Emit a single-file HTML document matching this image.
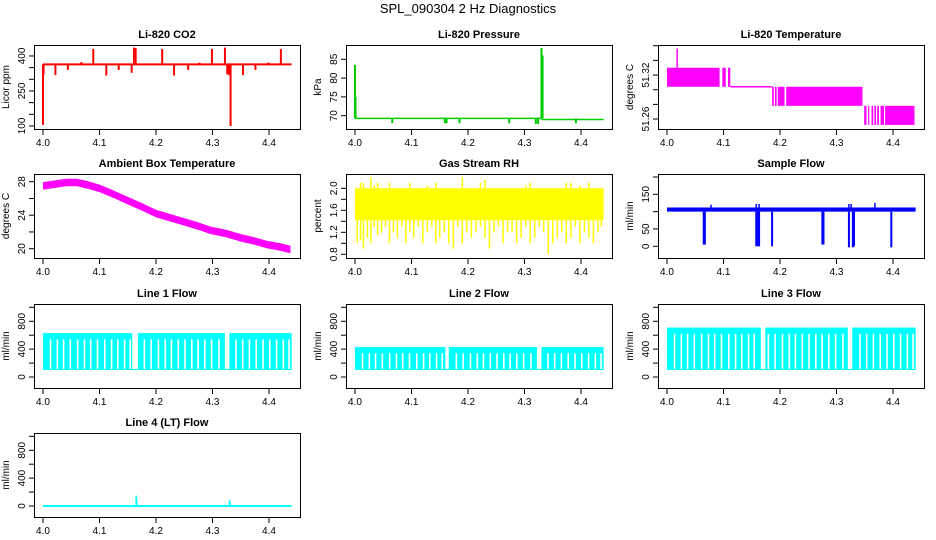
<!DOCTYPE html>
<html><head><meta charset="utf-8"><style>
html,body{margin:0;padding:0;background:#fff}
svg{display:block;font-family:"Liberation Sans",Arial,sans-serif}
</style></head><body>
<svg id="chart" width="936" height="540" viewBox="0 0 936 540">
<text x="468" y="13" text-anchor="middle" font-size="13">SPL_090304  2 Hz Diagnostics</text>
</svg>
<script>
// ---- data arrays ----
const xTicks=[4.0,4.1,4.2,4.3,4.4];
const co2Base=364;
const co2SpikeX=[4.000,4.001,4.022,4.044,4.068,4.089,4.112,4.134,4.157,4.161,4.164,4.211,4.232,4.257,4.277,4.299,4.322,4.326,4.329,4.332,4.354,4.376,4.399,4.421];
const co2SpikeV=[105,320,318,340,374,430,316,340,328,436,434,430,316,340,372,430,436,322,318,100,318,340,372,430];
const presBase=69.3;
const presSpikeX=[4.000,4.001,4.066,4.159,4.162,4.185,4.273,4.320,4.324,4.330,4.332,4.391];
const presSpikeV=[83.5,75,68,68,68,68,68,67.8,67.8,88,86,68];
const tempStart=[4.000,4.098,4.108,4.112,4.186,4.191,4.196,4.211,4.349,4.356,4.362,4.367,4.372,4.378,4.386];
const tempEnd=[4.093,4.104,4.112,4.186,4.189,4.194,4.208,4.346,4.353,4.358,4.365,4.370,4.375,4.384,4.438];
const tempLo=[51.304,51.304,51.304,51.303,51.278,51.278,51.278,51.278,51.252,51.252,51.252,51.252,51.252,51.252,51.252];
const tempHi=[51.330,51.330,51.330,51.305,51.304,51.304,51.304,51.304,51.278,51.278,51.278,51.278,51.278,51.278,51.278];
const tempSpikeX=[4.018];
const tempSpikeV=[51.356];
const ambX=[4.000,4.020,4.041,4.060,4.080,4.100,4.125,4.148,4.175,4.200,4.225,4.250,4.275,4.296,4.325,4.350,4.375,4.396,4.420,4.438];
const ambV=[27.5,27.7,27.9,27.9,27.6,27.2,26.5,25.8,25.0,24.2,23.7,23.2,22.7,22.2,21.8,21.3,20.9,20.5,20.2,19.9];
const rhCoreLo=1.42, rhCoreHi=2.0;
const rhSpikeX=[4.004,4.010,4.015,4.022,4.028,4.034,4.040,4.047,4.054,4.061,4.068,4.075,4.083,4.090,4.097,4.104,4.112,4.120,4.128,4.136,4.143,4.150,4.158,4.166,4.174,4.182,4.190,4.198,4.206,4.214,4.222,4.230,4.238,4.246,4.254,4.262,4.270,4.278,4.286,4.294,4.302,4.310,4.318,4.326,4.334,4.342,4.350,4.358,4.366,4.374,4.382,4.390,4.398,4.406,4.414,4.422,4.430,4.436];
const rhSpikeLo=[1.0,1.05,0.9,1.1,1.0,1.3,1.15,1.2,1.3,1.0,1.2,1.1,1.3,1.0,1.2,1.1,1.3,1.0,1.2,1.3,1.0,1.1,1.2,1.0,0.9,1.3,1.0,1.2,1.1,1.2,1.3,1.1,0.9,1.2,1.3,1.0,1.2,1.2,1.0,1.1,1.3,1.0,1.1,1.3,1.2,0.8,1.0,1.1,1.2,1.0,1.1,1.3,1.0,1.2,1.1,1.0,1.2,1.3];
const rhSpikeHi=[2.0,2.1,2.1,2.0,2.2,2.05,2.1,2.0,2.0,2.1,2.0,2.0,2.0,2.0,2.1,2.0,2.0,2.0,2.05,2.0,2.1,2.0,2.0,2.0,2.0,2.0,2.2,2.0,2.0,2.0,2.1,2.15,2.0,2.0,2.0,2.0,2.0,2.0,2.0,2.0,2.05,2.1,2.0,2.0,2.0,2.0,2.0,2.0,2.0,2.1,2.1,2.0,2.05,2.0,2.1,2.0,2.0,2.0];
const sampLo=100, sampHi=112;
const sampDipX=[4.065,4.067,4.158,4.161,4.163,4.186,4.275,4.277,4.322,4.329,4.331,4.397];
const sampDipV=[5,5,0,0,0,0,5,5,-3,-3,0,-3];
const sampPeakX=[4.078,4.158,4.163,4.322,4.326,4.368];
const sampPeakV=[120,122,122,122,122,125];
const flowStripes=[4.012,4.024,4.035,4.047,4.060,4.072,4.083,4.095,4.108,4.120,4.131,4.143,4.153,4.178,4.190,4.203,4.215,4.226,4.238,4.250,4.262,4.273,4.285,4.297,4.310,4.340,4.352,4.364,4.376,4.388,4.400,4.412,4.424,4.434];
const line1Hi=630, line2Hi=430, line3Hi=710, flowLo=100;
const line1GapS=[4.158,4.322], line1GapE=[4.168,4.330];
const line2GapS=[4.160,4.322], line2GapE=[4.166,4.330];
const line3GapS=[4.166,4.320], line3GapE=[4.174,4.328];
const line4Base=0;
const line4SpikeX=[4.165,4.166,4.330,4.331];
const line4SpikeV=[150,90,85,60];

// ---- layout ----
const NS="http://www.w3.org/2000/svg";
const svg=document.getElementById('chart');
const colL=[34,346,658], rowT=[45,174,304,433], W=266, H=84;
function mk(tag,attrs,parent){const e=document.createElementNS(NS,tag);for(const k in attrs)e.setAttribute(k,attrs[k]);(parent||svg).appendChild(e);return e;}

function panel(col,row,title,ylab,ymin,ymax,ticks,labels,name){
  const L=colL[col],T=rowT[row],B=T+H;
  const g=mk('g',{});
  
  
  const sx=v=>L+9+(v-4.0)*565;
  const sy=v=>T+H-(v-ymin)/(ymax-ymin)*H;
  const clip=mk('clipPath',{id:'c'+name},g);
  mk('rect',{x:L,y:T,width:W,height:H},clip);
  const plot=mk('g',{'clip-path':'url(#c'+name+')'},g);
  
  
  const box=mk('rect',{x:L+0.5,y:T+0.5,width:W,height:H,fill:'none',stroke:'#000','stroke-width':1},g);
  
  
  const t=mk('text',{x:L+W/2,y:T-7,'text-anchor':'middle','font-size':11,'font-weight':'bold'},g);
  t.textContent=title;
  
  
  const yl=mk('text',{transform:`translate(${L-25},${T+H/2}) rotate(-90)`,'text-anchor':'middle','font-size':10},g);
  yl.textContent=ylab;
  
  
  xTicks.forEach(v=>{
    mk('line',{x1:sx(v),x2:sx(v),y1:B,y2:B+6,stroke:'#000'},g);
    const tl=mk('text',{x:sx(v),y:B+17,'text-anchor':'middle','font-size':10},g);
    tl.textContent=v.toFixed(1);
    
    
  });
  ticks.forEach(v=>{mk('line',{x1:L-5,x2:L,y1:sy(v),y2:sy(v),stroke:'#000'},g);});
  labels.forEach(v=>{
    const tl=mk('text',{transform:`translate(${L-9},${sy(v)}) rotate(-90)`,'text-anchor':'middle','font-size':10},g);
    tl.textContent=String(v);
    
    
  });
  return {g:plot,sx,sy};
}
function vline(p,x,y1,y2,c,w){mk('line',{x1:p.sx(x),x2:p.sx(x),y1:p.sy(y1),y2:p.sy(y2),stroke:c,'stroke-width':w||1.5},p.g);}
function hline(p,x1,x2,y,c,w){mk('line',{x1:p.sx(x1),x2:p.sx(x2),y1:p.sy(y),y2:p.sy(y),stroke:c,'stroke-width':w||1.5},p.g);}
function band(p,x1,x2,lo,hi,c){mk('rect',{x:p.sx(x1),y:p.sy(hi),width:Math.max(0.5,p.sx(x2)-p.sx(x1)),height:Math.max(1,p.sy(lo)-p.sy(hi)),fill:c},p.g);}

// CO2
let p=panel(0,0,'Li-820 CO2','Licor ppm',87,447,[100,150,200,250,300,350,400],[100,250,400],'co2');
hline(p,4.0,4.44,co2Base,'#f00',2);
co2SpikeX.forEach((x,i)=>vline(p,x,co2Base,co2SpikeV[i],'#f00',2));
// Pressure
p=panel(1,0,'Li-820 Pressure','kPa',66.46,88.8,[70,75,80,85],[70,75,80,85],'pressure');
hline(p,4.0,4.33,presBase,'#0c0',1.5);hline(p,4.33,4.44,presBase-0.3,'#0c0',1.5);
presSpikeX.forEach((x,i)=>vline(p,x,presBase,presSpikeV[i],'#0c0',2));
// Temperature
p=panel(2,0,'Li-820 Temperature','degrees C',51.2464,51.361,[51.26,51.28,51.30,51.32,51.34,51.36],['51.26','51.32'],'temperature');
tempStart.forEach((s,i)=>band(p,s,tempEnd[i],tempLo[i],tempHi[i],'#f0f'));
tempSpikeX.forEach((x,i)=>vline(p,x,51.33,tempSpikeV[i],'#f0f',1.5));
// Ambient
p=panel(0,1,'Ambient Box Temperature','degrees C',18.89,28.92,[20,22,24,26,28],[20,24,28],'ambient');
let pts=ambX.map((x,i)=>p.sx(x)+','+p.sy(ambV[i]+0.45)).concat(ambX.slice().reverse().map((x,i)=>{const j=ambX.length-1-i;return p.sx(x)+','+p.sy(ambV[j]-0.45);}));
mk('polygon',{points:pts.join(' '),fill:'#f0f'},p.g);
// RH
p=panel(1,1,'Gas Stream RH','percent',0.733,2.26,[0.8,1.0,1.2,1.4,1.6,1.8,2.0],['0.8','1.2','1.6','2.0'],'rh');
band(p,4.0,4.44,rhCoreLo,rhCoreHi,'#ff0');
rhSpikeX.forEach((x,i)=>{vline(p,x,1.6,rhSpikeLo[i],'#ff0',1.5);vline(p,x,1.6,rhSpikeHi[i],'#ff0',1.5);});
// Sample flow
p=panel(2,1,'Sample Flow','ml/min',-33.8,208.6,[0,50,100,150,200],[0,50,150],'sample-flow');
band(p,4.0,4.44,sampLo,sampHi,'#00f');
sampDipX.forEach((x,i)=>vline(p,x,sampLo,sampDipV[i],'#00f',2));
sampPeakX.forEach((x,i)=>vline(p,x,sampHi,sampPeakV[i],'#00f',1.5));
// Line flows
function flowPanel(col,row,title,name,hi,gs,ge){
  const q=panel(col,row,title,'ml/min',-158,1048,[0,200,400,600,800,1000],[0,400,800],name);
  band(q,4.0,4.44,flowLo,hi,'#0ff');
  flowStripes.forEach(x=>band(q,x,x+0.0028,flowLo+15,hi-90,'#fff'));
  gs.forEach((s,i)=>band(q,s,ge[i],flowLo+15,hi+5,'#fff'));
  return q;
}
flowPanel(0,2,'Line 1 Flow','line1-flow',line1Hi,line1GapS,line1GapE);
flowPanel(1,2,'Line 2 Flow','line2-flow',line2Hi,line2GapS,line2GapE);
flowPanel(2,2,'Line 3 Flow','line3-flow',line3Hi,line3GapS,line3GapE);
p=panel(0,3,'Line 4 (LT) Flow','ml/min',-158,1048,[0,200,400,600,800,1000],[0,400,800],'line4-flow');
hline(p,4.0,4.44,line4Base,'#0ff',2);
line4SpikeX.forEach((x,i)=>vline(p,x,line4Base,line4SpikeV[i],'#0ff',1.5));
</script>
</body></html>
